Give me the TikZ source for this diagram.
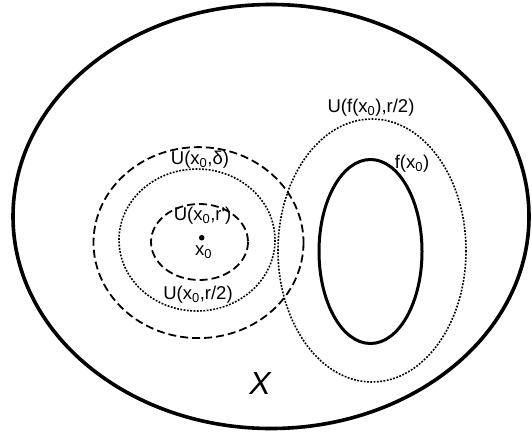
\documentclass[tikz,border=0pt]{standalone}
\usepackage{fontspec}
\setmainfont{Liberation Sans}
\usepackage{tikz}
\usetikzlibrary{calc}

\tikzset{
  ball/.style={dash pattern=on 8pt off 4pt, line width=1.8pt},
  halfball/.style={dash pattern=on 1.8pt off 1.5pt, line width=1.6pt},
  lbl/.style={inner sep=0pt, font=\fontsize{18.5}{20}\selectfont},
}

\begin{document}
\begin{tikzpicture}[x=1pt,y=-1pt]
  \useasboundingbox (0,0) rectangle (532,433);
  \coordinate (X0) at (201.7,237.7);
  \coordinate (F0) at (371,251);
  % the space X
  \draw[line width=3.6pt] (271,216.5) ellipse [x radius=258, y radius=212];
  % balls round x_0
  \draw[ball] (199.5,242) ellipse [x radius=48.5, y radius=38];
  \draw[halfball] (197,240) ellipse [x radius=78, y radius=71];
  \draw[ball] (198.5,242.6) ellipse [x radius=105, y radius=95.5];
  % image and its neighbourhood
  \draw[halfball] (372,250.5) ellipse [x radius=94, y radius=131.5];
  \draw[line width=3pt] (370.5,251.5) ellipse [x radius=51.5, y radius=92];
  \fill (X0) circle (2.8pt);
  \node[lbl] (udelta) at (200,160) {U(x\textsubscript{0},δ)};
  \node[lbl] (urp) at (202.6,216) {U(x\textsubscript{0},r\textquotesingle)};
  \node[lbl] (xlab) at (203.6,252) {x\textsubscript{0}};
  \node[lbl] (urhalf) at (198,295) {U(x\textsubscript{0},r/2)};
  \node[lbl] (ufhalf) at (371,108) {U(f(x\textsubscript{0}),r/2)};
  \node[lbl] (flab) at (412,164) {f(x\textsubscript{0})};
  \node[inner sep=0pt, font=\fontsize{32}{34}\selectfont\itshape] (space) at (260,383) {X};
\end{tikzpicture}
\end{document}
